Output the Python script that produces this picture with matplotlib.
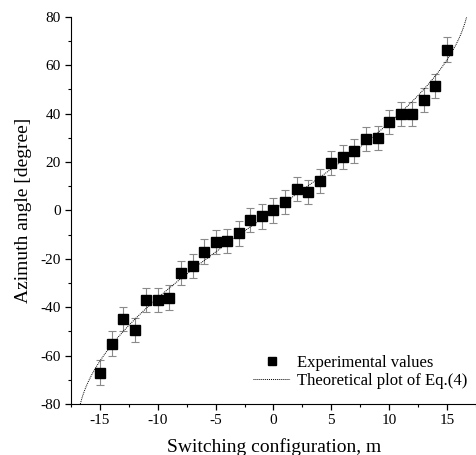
import numpy as np
import matplotlib
matplotlib.use("Agg")
import matplotlib.pyplot as plt
from matplotlib.ticker import MultipleLocator

plt.rcParams['font.family'] = ['Liberation Serif', 'DejaVu Serif']
plt.rcParams['axes.unicode_minus'] = False

m_values = [-15, -14, -13, -12, -11, -10, -9, -8, -7, -6, -5, -4, -3, -2, -1, 0,
            1, 2, 3, 4, 5, 6, 7, 8, 9, 10, 11, 12, 13, 14, 15]
azimuth = [-67, -55, -45, -49.5, -37, -37, -36, -26, -23, -17, -13, -12.5, -9.5, -4, -2.5, 0,
           3.5, 9, 7.5, 12, 19.5, 22, 24.5, 29.5, 30, 36.5, 40, 40, 45.5, 51.5, 66.5]
errors = [5, 5, 5, 5, 5, 5, 5, 5, 5, 5, 5, 5, 5, 5, 5, 5,
          5, 5, 5, 5, 5, 5, 5, 5, 5, 5, 5, 5, 5, 5, 5]

# Theoretical curve of Eq.(4): theta = arcsin(m / N)
N_param = 16.96
m_theory = np.linspace(-16.7, 16.7, 400)
theta_theory = np.degrees(np.arcsin(m_theory / N_param))

fig = plt.figure(figsize=(4.77, 4.55), dpi=100)
ax = fig.add_axes([0.149, 0.112, 0.851, 0.851])

ax.errorbar(m_values, azimuth, yerr=errors, fmt='none', ecolor='#8a8a8a',
            elinewidth=0.8, capsize=3, capthick=0.8, zorder=2)
ax.plot(m_values, azimuth, 's', color='black', markersize=6.8, zorder=3,
        label='Experimental values')
ax.plot(m_theory, theta_theory, color='black', linewidth=0.7, zorder=4,
        linestyle=(0, (1, 1)), label='Theoretical plot of Eq.(4)')

ax.set_xlim(-17.5, 17.6)
ax.set_ylim(-80, 80)
ax.xaxis.set_major_locator(MultipleLocator(5))
ax.xaxis.set_minor_locator(MultipleLocator(2.5))
ax.yaxis.set_major_locator(MultipleLocator(20))
ax.yaxis.set_minor_locator(MultipleLocator(10))
ax.spines['top'].set_visible(False)
ax.spines['right'].set_visible(False)
ax.tick_params(which='major', direction='out', length=4, width=0.9, labelsize=11)
ax.tick_params(which='minor', direction='out', length=2.5, width=0.8)

ax.set_xlabel('Switching configuration, m', fontsize=14, labelpad=8)
ax.set_ylabel('Azimuth angle [degree]', fontsize=14, labelpad=6)

ax.legend(loc='lower right', frameon=False, fontsize=12, handlelength=2.2,
          handletextpad=0.4, labelspacing=0.15, borderaxespad=0.2,
          markerscale=0.8, bbox_to_anchor=(1.0, 0.013))

fig.savefig('out.png', dpi=100)
